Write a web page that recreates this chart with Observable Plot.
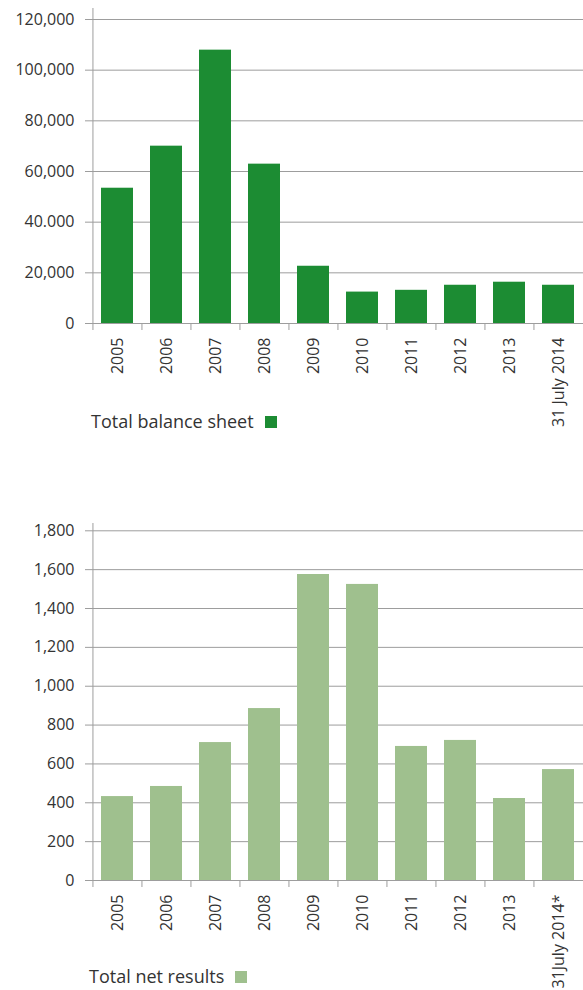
<!DOCTYPE html>
<html><head><meta charset="utf-8">
<script src="https://cdn.jsdelivr.net/npm/d3@7"></script>
<script src="https://cdn.jsdelivr.net/npm/@observablehq/plot@0.6"></script>
<style>
body{margin:0;background:#fff;font-family:"Open Sans",sans-serif;}
#wrap{position:relative;width:583px;height:990px;overflow:hidden;}
.chart{position:absolute;left:0;}
.chart svg{overflow:visible;}
.legend{position:absolute;font-size:18px;line-height:18px;color:#333;white-space:nowrap;}
.sw{display:inline-block;width:12px;height:12px;margin-left:11px;}
</style></head><body>
<div id="wrap">
 <div id="c1" class="chart" style="top:0"></div>
 <div id="l1" class="legend" style="left:91px;top:412px"></div>
 <div id="c2" class="chart" style="top:500px"></div>
 <div id="l2" class="legend" style="left:89px;top:967px"></div>
</div>
<script>
const years1 = ["2005","2006","2007","2008","2009","2010","2011","2012","2013","31 July 2014"];
const balance = [53400, 70000, 107900, 62900, 22600, 12400, 13100, 15100, 16300, 15100];
const balanceTicks = [0, 20000, 40000, 60000, 80000, 100000, 120000];
const balanceTickLabels = ["0","20,000","40.000","60,000","80,000","100,000","120,000"];
const balanceLabel = "Total balance sheet";

const years2 = ["2005","2006","2007","2008","2009","2010","2011","2012","2013","31July 2014*"];
const netResults = [432, 484, 710, 885, 1575, 1524, 690, 721, 422, 571];
const netTicks = [0, 200, 400, 600, 800, 1000, 1200, 1400, 1600, 1800];
const netTickLabels = ["0","200","400","600","800","1,000","1,200","1,400","1,600","1,800"];
const netLabel = "Total net results";

function makeChart({cats, vals, ticks, labels, color, yMax, height, marginTop, marginBottom}) {
  const W = 583, ML = 92, MR = 0;
  const step = (W - ML - MR) / cats.length;
  const data = cats.map((c, i) => ({cat: c, value: vals[i]}));
  const labelMap = new Map(ticks.map((t, i) => [t, labels[i]]));
  const grid = "#9d9d9d";
  return Plot.plot({
    width: W, height, marginLeft: ML, marginRight: MR, marginTop, marginBottom,
    style: {fontFamily: "Open Sans", fontSize: "16px", color: "#333", overflow: "visible", background: "transparent"},
    x: {domain: cats, paddingInner: 0.35, paddingOuter: 0.175, axis: null, label: null},
    y: {domain: [0, yMax], axis: null, label: null},
    marks: [
      Plot.ruleY(ticks, {stroke: grid}),
      Plot.barY(data, {x: "cat", y: "value", fill: color}),
      Plot.ruleX([cats[0]], {x: d => d, dx: -step / 2, y1: 0, y2: yMax, stroke: grid}),
      Plot.axisY({ticks, tickFormat: d => labelMap.get(d), tickSize: 7, tickPadding: 11, stroke: grid, fill: "#333", fontSize: 16, label: null}),
      Plot.axisX({tickSize: 7, tickFormat: () => "", dx: -step / 2, stroke: grid, label: null}),
      Plot.axisX({tickSize: 0, tickPadding: 14, tickRotate: -90, fill: "#333", fontSize: 16, label: null})
    ]
  });
}

document.getElementById("c1").appendChild(makeChart({
  cats: years1, vals: balance, ticks: balanceTicks, labels: balanceTickLabels,
  color: "#1c8c33", yMax: 120000 * 315 / 304, height: 410, marginTop: 8, marginBottom: 87
}));
document.getElementById("c2").appendChild(makeChart({
  cats: years2, vals: netResults, ticks: netTicks, labels: netTickLabels,
  color: "#9fc08e", yMax: 1800 * 357 / 349.7, height: 460, marginTop: 23, marginBottom: 80
}));

function legend(id, text, color) {
  const el = document.getElementById(id);
  el.appendChild(document.createTextNode(text));
  const sw = document.createElement("span");
  sw.className = "sw";
  sw.style.background = color;
  el.appendChild(sw);
}
legend("l1", balanceLabel, "#1c8c33");
legend("l2", netLabel, "#9fc08e");
</script>
</body></html>
